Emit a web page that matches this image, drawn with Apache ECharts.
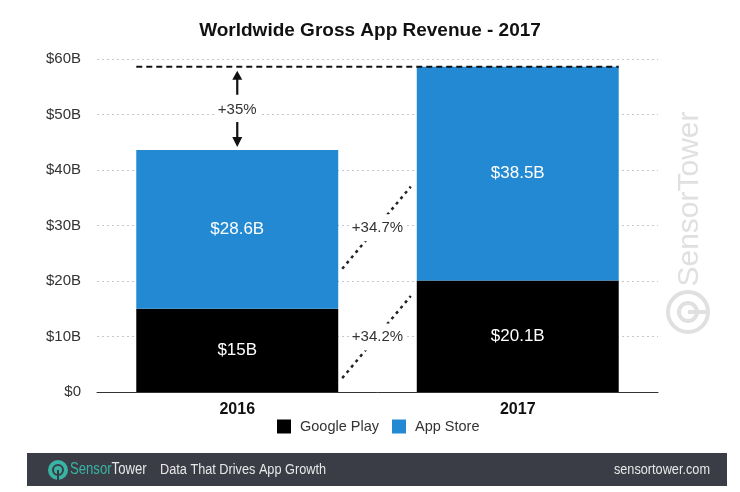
<!DOCTYPE html>
<html>
<head>
<meta charset="utf-8">
<script src="https://cdn.jsdelivr.net/npm/echarts@6/dist/echarts.min.js"></script>
<style>html,body{margin:0;padding:0;background:#fff}#c{width:740px;height:492px}</style>
</head>
<body>
<div id="c"></div>
<script>
const categories = ['2016', '2017'];
const googlePlay = [15, 20.1];
const appStore = [28.6, 38.5];
const googlePlayLabels = ['$15B', '$20.1B'];
const appStoreLabels = ['$28.6B', '$38.5B'];
const yTickLabels = ['$0', '$10B', '$20B', '$30B', '$40B', '$50B', '$60B'];
const totalGrowth = '+35%';
const appStoreGrowth = '+34.7%';
const googlePlayGrowth = '+34.2%';
// estimated ends (in $B) of the dotted growth connectors [left, right]
const appStoreConnector = [22.2, 37.0];
const googlePlayConnector = [2.5, 17.3];

const FONT = '"Liberation Sans", Arial, sans-serif';
const BLUE = '#2389d3';
const chart = echarts.init(document.getElementById('c'), null, {renderer: 'canvas'});

const option = {
  backgroundColor: '#fff',
  animation: false,
  title: {
    text: 'Worldwide Gross App Revenue - 2017',
    left: 'center', top: 16,
    textStyle: {fontFamily: FONT, fontSize: 19, fontWeight: 'bold', color: '#111'}
  },
  legend: {
    bottom: 53, left: 272,
    itemWidth: 14, itemHeight: 14, itemGap: 13,
    textStyle: {fontFamily: FONT, fontSize: 14.5, color: '#333', padding: [0, 0, 0, 4]},
    data: [
      {name: 'Google Play', icon: 'rect'},
      {name: 'App Store', icon: 'rect'}
    ]
  },
  grid: {left: 97, right: 82, top: 59, bottom: 100},
  xAxis: {
    type: 'category', data: categories,
    axisLine: {lineStyle: {color: '#333', width: 1}},
    axisTick: {show: false},
    axisLabel: {fontFamily: FONT, fontSize: 16, fontWeight: 'bold', color: '#111', margin: 10}
  },
  yAxis: {
    type: 'value', min: 0, max: 60, interval: 10,
    axisLine: {show: false}, axisTick: {show: false},
    axisLabel: {
      fontFamily: FONT, fontSize: 15, color: '#333', margin: 16,
      formatter: v => yTickLabels[Math.round(v / 10)]
    },
    splitLine: {lineStyle: {color: '#c8c8c8', type: [2, 3], width: 1}}
  },
  series: [
    {
      name: 'Google Play', type: 'bar', stack: 'rev', barWidth: '72%',
      data: googlePlay, itemStyle: {color: '#000'},
      label: {show: true, position: 'inside', color: '#fff', fontFamily: FONT, fontSize: 17,
        formatter: p => googlePlayLabels[p.dataIndex]}
    },
    {
      name: 'App Store', type: 'bar', stack: 'rev', barWidth: '72%',
      data: appStore, itemStyle: {color: BLUE},
      label: {show: true, position: 'inside', color: '#fff', fontFamily: FONT, fontSize: 17,
        formatter: p => appStoreLabels[p.dataIndex]}
    }
  ]
};
chart.setOption(option);

function px(cat, val) { return chart.convertToPixel({gridIndex: 0}, [cat, val]); }

const p0 = px(0, 0), p1 = px(1, 0);
const band = p1[0] - p0[0];
const half = band * 0.72 / 2;
const total0 = googlePlay[0] + appStore[0];
const total1 = googlePlay[1] + appStore[1];
const yTop = px(0, total1)[1];
const yBot = px(0, total0)[1];
const ax = p0[0];
const els = [];

// dashed top line
els.push({type: 'line', shape: {x1: p0[0] - half, y1: yTop, x2: p1[0] + half, y2: yTop},
  style: {stroke: '#111', lineWidth: 2, lineDash: [6, 4]}, z: 10});
// up arrow
els.push({type: 'line', shape: {x1: ax, y1: yTop + 28, x2: ax, y2: yTop + 12}, style: {stroke: '#111', lineWidth: 2.2}, z: 10});
els.push({type: 'polygon', shape: {points: [[ax, yTop + 4], [ax - 5, yTop + 13], [ax + 5, yTop + 13]]}, style: {fill: '#111'}, z: 10});
// down arrow
els.push({type: 'line', shape: {x1: ax, y1: yBot - 28, x2: ax, y2: yBot - 12}, style: {stroke: '#111', lineWidth: 2.2}, z: 10});
els.push({type: 'polygon', shape: {points: [[ax, yBot - 3], [ax - 5, yBot - 13], [ax + 5, yBot - 13]]}, style: {fill: '#111'}, z: 10});
els.push({type: 'text', x: ax, y: (yTop + yBot) / 2 + 1, z: 11,
  style: {text: totalGrowth, fill: '#333', font: '15px ' + FONT, align: 'center', verticalAlign: 'middle',
    backgroundColor: '#fff', padding: [2, 3]}});

function connector(vals, label) {
  const xl = p0[0] + half + 4, xr = p1[0] - half - 6;
  const yl = px(0, vals[0])[1], yr = px(1, vals[1])[1];
  els.push({type: 'line', shape: {x1: xl, y1: yl, x2: xr, y2: yr},
    style: {stroke: '#222', lineWidth: 2.5, lineDash: [3, 4]}, z: 10});
  els.push({type: 'text', x: (xl + xr) / 2 + 1, y: (yl + yr) / 2, z: 11,
    style: {text: label, fill: '#333', font: '15px ' + FONT, align: 'center', verticalAlign: 'middle',
      backgroundColor: '#fff', padding: [6, 2]}});
}
connector(appStoreConnector, appStoreGrowth);
connector(googlePlayConnector, googlePlayGrowth);

// watermark
const WM = '#e0e0e0';
els.push({type: 'text', x: 690, y: 199, rotation: Math.PI / 2, z: 1,
  style: {text: 'SensorTower', fill: WM, font: '30px ' + FONT, align: 'center', verticalAlign: 'middle'}});
els.push({type: 'circle', shape: {cx: 688, cy: 312, r: 20}, style: {fill: 'none', stroke: WM, lineWidth: 4}, z: 1});
els.push({type: 'circle', shape: {cx: 688, cy: 312, r: 9}, style: {fill: 'none', stroke: WM, lineWidth: 4}, z: 1});
els.push({type: 'line', shape: {x1: 688, y1: 312, x2: 707, y2: 312}, style: {stroke: WM, lineWidth: 4}, z: 1});

// footer
els.push({type: 'rect', shape: {x: 27, y: 453, width: 700, height: 33}, style: {fill: '#3a3d45'}, z: 1});
els.push({type: 'circle', shape: {cx: 58, cy: 470, r: 10}, style: {fill: '#39b3a3'}, z: 2});
els.push({type: 'circle', shape: {cx: 58, cy: 470, r: 5}, style: {fill: 'none', stroke: '#3a3d45', lineWidth: 2}, z: 3});
els.push({type: 'line', shape: {x1: 58, y1: 470, x2: 58, y2: 480}, style: {stroke: '#3a3d45', lineWidth: 2}, z: 3});
els.push({type: 'text', x: 70, y: 470, scaleX: 0.82, z: 2,
  style: {text: '{a|Sensor}{b|Tower}', verticalAlign: 'middle', font: '16px ' + FONT,
    rich: {a: {fill: '#39b3a3', font: '16px ' + FONT}, b: {fill: '#e8e8e8', font: '16px ' + FONT}}}});
els.push({type: 'text', x: 160, y: 470, scaleX: 0.82, z: 2,
  style: {text: 'Data That Drives App Growth', fill: '#e8e8e8', font: '15.5px ' + FONT, verticalAlign: 'middle'}});
els.push({type: 'text', x: 710, y: 470, scaleX: 0.82, z: 2,
  style: {text: 'sensortower.com', fill: '#e8e8e8', font: '15.5px ' + FONT, align: 'right', verticalAlign: 'middle'}});

chart.setOption({graphic: {elements: els}});
</script>
</body>
</html>
